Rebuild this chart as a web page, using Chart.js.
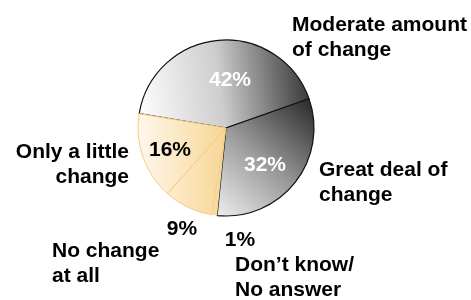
<!doctype html>
<html lang="en">
<head>
  <meta charset="utf-8">
  <title>Amount of change</title>
  <script src="https://cdn.jsdelivr.net/npm/chart.js"></script>
  <style>
    html, body { margin: 0; padding: 0; background: #fff; }
    #wrap { width: 471px; height: 300px; }
  </style>
</head>
<body>
<div id="wrap"><canvas id="pieChart" width="471" height="300"></canvas></div>
<script>
  // data, clockwise from the left edge of the big slice
  const categories = ['Moderate amount|of change', 'Great deal of|change', 'Don\u2019t know/|No answer', 'No change|at all', 'Only a little|change'];
  const values = [42, 32, 1, 9, 16];
  const pctLabels = ['42%', '32%', '1%', '9%', '16%'];

  // label placement relative to the pie centre (px)
  const pctPos = [[4, -42], [39, 43], [14, 118], [-44, 107], [-56, 28]];
  const pctColor = ['#fff', '#fff', '#000', '#000', '#000'];
  const catPos = [[66, -97, 'left'], [93, 48, 'left'], [9, 143, 'left'], [-174, 129, 'left'], [-97, 30, 'right']];
  const lineGap = 25;

  function sliceFill(context) {
    const chart = context.chart;
    const area = chart.chartArea;
    const i = context.dataIndex;
    if (!area) return i < 2 ? '#999' : '#fbe3b8';
    const g = chart.ctx;
    const cx = (area.left + area.right) / 2;
    const cy = (area.top + area.bottom) / 2;
    const r = 88;
    let grad;
    if (i === 0) {
      grad = g.createLinearGradient(cx - r, cy, cx + r * 0.95, cy - r * 0.25);
      grad.addColorStop(0, '#ffffff');
      grad.addColorStop(0.5, '#cdcdcd');
      grad.addColorStop(1, '#3c3c3c');
    } else if (i === 1) {
      grad = g.createLinearGradient(cx - r * 0.1, cy + r, cx + r, cy - r * 0.2);
      grad.addColorStop(0, '#eeeeee');
      grad.addColorStop(0.5, '#9a9a9a');
      grad.addColorStop(1, '#333333');
    } else {
      grad = g.createLinearGradient(cx - r, cy, cx, cy);
      grad.addColorStop(0, '#fef7ec');
      grad.addColorStop(1, '#f8d694');
    }
    return grad;
  }

  const labelPlugin = {
    id: 'sliceLabels',
    afterDatasetsDraw(chart) {
      const ctx = chart.ctx;
      const arcs = chart.getDatasetMeta(0).data;
      const cx = arcs[0].x, cy = arcs[0].y;
      ctx.save();
      ctx.font = 'bold 21px "Liberation Sans", Arial, sans-serif';
      ctx.textBaseline = 'alphabetic';
      pctLabels.forEach((t, i) => {
        ctx.fillStyle = pctColor[i];
        ctx.textAlign = 'center';
        ctx.fillText(t, cx + pctPos[i][0], cy + pctPos[i][1]);
      });
      ctx.fillStyle = '#000';
      categories.forEach((t, i) => {
        const p = catPos[i];
        ctx.textAlign = p[2];
        t.split('|').forEach((line, k) => {
          ctx.fillText(line, cx + p[0], cy + p[1] + k * lineGap);
        });
      });
      ctx.restore();
    }
  };

  new Chart(document.getElementById('pieChart'), {
    type: 'pie',
    data: {
      labels: categories.map(c => c.replace('|', ' ')),
      datasets: [{
        data: values,
        backgroundColor: sliceFill,
        borderColor: ['#111', '#111', '#f2cc88', '#f2cc88', '#f2cc88'],
        borderWidth: [1.2, 1.2, 0, 1, 1]
      }]
    },
    options: {
      responsive: false,
      animation: false,
      events: [],
      rotation: 279.4,
      radius: 88,
      layout: { padding: { left: 138, right: 157, top: 40, bottom: 84 } },
      plugins: { legend: { display: false }, tooltip: { enabled: false } }
    },
    plugins: [labelPlugin]
  });
</script>
</body>
</html>
